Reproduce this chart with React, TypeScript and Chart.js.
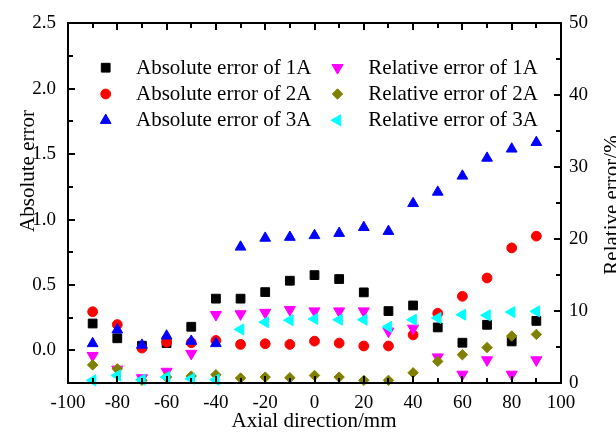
import React, { useEffect, useRef } from 'react';
import { Chart, registerables } from 'chart.js';
import { drawPoint } from 'chart.js/helpers';

Chart.register(...registerables);

const positions = [-90, -80, -70, -60, -50, -40, -30, -20, -10, 0, 10, 20, 30, 40, 50, 60, 70, 80, 90];
const abs1A = [0.205, 0.092, 0.035, 0.055, 0.18, 0.395, 0.395, 0.445, 0.532, 0.575, 0.545, 0.443, 0.3, 0.343, 0.175, 0.058, 0.195, 0.068, 0.225];
const abs2A = [0.295, 0.197, 0.017, 0.062, 0.058, 0.075, 0.045, 0.05, 0.045, 0.07, 0.055, 0.033, 0.033, 0.118, 0.283, 0.413, 0.553, 0.783, 0.873];
const abs3A = [0.052, 0.157, 0.04, 0.11, 0.07, 0.052, 0.79, 0.858, 0.865, 0.878, 0.895, 0.94, 0.91, 1.123, 1.21, 1.333, 1.47, 1.54, 1.59];
const rel1A = [3.8, 1.9, 0.7, 1.6, 4.1, 9.5, 9.6, 9.8, 10.2, 10.0, 10.0, 10.0, 7.2, 7.6, 3.6, 1.2, 3.2, 1.2, 3.2];
const rel2A = [2.51, 1.97, 0.37, 0.82, 0.96, 1.14, 0.69, 0.82, 0.73, 1.05, 0.82, 0.37, 0.37, 1.42, 3.0, 3.93, 4.93, 6.53, 6.76];
const rel3A = [0.37, 1.05, 0.46, 0.82, 0.6, 0.46, 7.45, 8.45, 8.73, 8.9, 8.8, 8.8, 7.8, 8.8, 9.04, 9.5, 9.41, 9.86, 9.96];

const xTickLabels = ['-100', '-80', '-60', '-40', '-20', '0', '20', '40', '60', '80', '100'];
const xTitle = 'Axial direction/mm';
const yTitle = 'Absolute error';
const y2Title = 'Relative error/%';

const seriesNames = [
  'Absolute error of 1A',
  'Absolute error of 2A',
  'Absolute error of 3A',
  'Relative error of 1A',
  'Relative error of 2A',
  'Relative error of 3A',
];
const seriesValues = [abs1A, abs2A, abs3A, rel1A, rel2A, rel3A];
const seriesAxes = ['y', 'y', 'y', 'y2', 'y2', 'y2'];
const seriesColors = ['#000000', '#FF0000', '#0000FF', '#FF00FF', '#808000', '#00FFFF'];
const seriesStyles = ['rect', 'circle', 'triangle', 'triangle', 'rectRot', 'triangle'];
const seriesRotations = [0, 0, 0, 180, 0, 270];
const seriesRadii = [6.2, 4.9, 6.2, 6.4, 5.2, 6.4];

const FONT = "'Liberation Serif', 'Times New Roman', serif";

const framePlugin = {
  id: 'frameTicks',
  afterDatasetsDraw(chart: any) {
    const { ctx, chartArea: a, scales } = chart;
    const L = Math.round(a.left);
    const R = Math.round(a.right);
    const T = Math.round(a.top);
    const B = Math.round(a.bottom);
    const w = 2;
    ctx.save();
    ctx.globalAlpha = 1;
    ctx.fillStyle = '#000000';
    ctx.fillRect(L - 1, T - 1, R - L + w, w);
    ctx.fillRect(L - 1, B - 1, R - L + w, w);
    ctx.fillRect(L - 1, T - 1, w, B - T + w);
    ctx.fillRect(R - 1, T - 1, w, B - T + w);
    const major = 7;
    const minor = 5;
    const xs = scales.x;
    xs.ticks.forEach((t: any) => {
      const px = Math.round(xs.getPixelForValue(t.value));
      const len = Math.round(t.value) % 20 === 0 ? major : minor;
      ctx.fillRect(px - 1, B - len, w, len);
      ctx.fillRect(px - 1, T, w, len);
    });
    const ys = scales.y;
    ys.ticks.forEach((t: any) => {
      const py = Math.round(ys.getPixelForValue(t.value));
      const v2 = t.value * 2;
      const len = Math.abs(v2 - Math.round(v2)) < 1e-6 ? major : minor;
      ctx.fillRect(L, py - 1, len, w);
    });
    const y2 = scales.y2;
    y2.ticks.forEach((t: any) => {
      const py = Math.round(y2.getPixelForValue(t.value));
      const len = Math.round(t.value) % 10 === 0 ? major : minor;
      ctx.fillRect(R - len, py - 1, len, w);
    });
    ctx.restore();
  },
  afterDraw(chart: any) {
    const { ctx } = chart;
    ctx.save();
    ctx.fillStyle = '#000';
    ctx.font = `21px ${FONT}`;
    ctx.textAlign = 'center';
    ctx.textBaseline = 'alphabetic';
    ctx.fillText(xTitle, 314, 426.5);
    ctx.save();
    ctx.translate(34, 171);
    ctx.rotate(-Math.PI / 2);
    ctx.fillText(yTitle, 0, 0);
    ctx.restore();
    ctx.save();
    ctx.translate(617.5, 205);
    ctx.rotate(-Math.PI / 2);
    ctx.fillText(y2Title, 0, 0);
    ctx.restore();

    const colMarkerX = [105.7, 337.5];
    const colTextX = [136, 368.3];
    const rowY = [67.7, 94, 120.3];
    ctx.textAlign = 'left';
    ctx.textBaseline = 'middle';
    for (let i = 0; i < 6; i++) {
      const col = i < 3 ? 0 : 1;
      const row = i % 3;
      ctx.fillStyle = seriesColors[i];
      ctx.strokeStyle = seriesColors[i];
      ctx.lineWidth = 1;
      drawPoint(
        ctx,
        {
          pointStyle: seriesStyles[i] as any,
          rotation: seriesRotations[i],
          radius: seriesRadii[i],
          borderWidth: 1,
        } as any,
        colMarkerX[col],
        rowY[row]
      );
      ctx.fillStyle = '#000';
      ctx.fillText(seriesNames[i], colTextX[col], rowY[row] + 0.5);
    }
    ctx.restore();
  },
};

export default function App() {
  const canvasRef = useRef<HTMLCanvasElement | null>(null);

  useEffect(() => {
    if (!canvasRef.current) return;
    Chart.defaults.font.family = FONT;
    const datasets = seriesNames.map((name, i) => ({
      label: name,
      data: positions.map((x, j) => ({ x, y: seriesValues[i][j] })),
      yAxisID: seriesAxes[i],
      showLine: false,
      pointStyle: seriesStyles[i],
      rotation: seriesRotations[i],
      pointRadius: seriesRadii[i],
      pointHoverRadius: seriesRadii[i],
      backgroundColor: seriesColors[i],
      borderColor: seriesColors[i],
      pointBorderWidth: 1,
      clip: false as any,
      order: 6 - i,
    }));

    const chart = new Chart(canvasRef.current, {
      type: 'scatter',
      data: { datasets },
      plugins: [framePlugin],
      options: {
        responsive: false,
        animation: false,
        devicePixelRatio: 1,
        layout: { padding: { top: 18, left: 0, right: 0, bottom: 0 } },
        plugins: {
          legend: { display: false },
          tooltip: { enabled: false },
          title: { display: false },
        },
        scales: {
          x: {
            type: 'linear',
            position: 'bottom',
            min: -100,
            max: 100,
            grid: { display: false, drawTicks: false },
            border: { display: false },
            ticks: {
              stepSize: 10,
              autoSkip: false,
              maxRotation: 0,
              padding: 9,
              color: '#000',
              font: { size: 19, family: FONT },
              callback: (v: any) => {
                const n = Math.round(Number(v));
                if (n % 20 !== 0) return '';
                const idx = xTickLabels.indexOf(String(n));
                return idx >= 0 ? xTickLabels[idx] : '';
              },
            },
            afterFit: (s: any) => {
              s.height = 49;
            },
          },
          y: {
            type: 'linear',
            position: 'left',
            min: -0.25,
            max: 2.5,
            grid: { display: false, drawTicks: false },
            border: { display: false },
            ticks: {
              stepSize: 0.25,
              autoSkip: false,
              padding: 12,
              color: '#000',
              font: { size: 19, family: FONT },
              callback: (v: any) => {
                const n = Number(v);
                const v2 = n * 2;
                if (Math.abs(v2 - Math.round(v2)) > 1e-6) return '';
                return n.toFixed(1);
              },
            },
            afterFit: (s: any) => {
              s.width = 68;
            },
          },
          y2: {
            type: 'linear',
            position: 'right',
            min: 0,
            max: 50,
            grid: { display: false, drawTicks: false },
            border: { display: false },
            ticks: {
              stepSize: 5,
              autoSkip: false,
              padding: 8,
              color: '#000',
              font: { size: 19, family: FONT },
              callback: (v: any) => {
                const n = Math.round(Number(v));
                return n % 10 === 0 ? String(n) : '';
              },
            },
            afterFit: (s: any) => {
              s.width = 55;
            },
          },
        },
      },
    });
    return () => chart.destroy();
  }, []);

  return (
    <div style={{ position: 'absolute', left: 0, top: 0, width: 616, height: 432, background: '#fff' }}>
      <canvas ref={canvasRef} width={616} height={432} style={{ display: 'block' }} />
    </div>
  );
}
